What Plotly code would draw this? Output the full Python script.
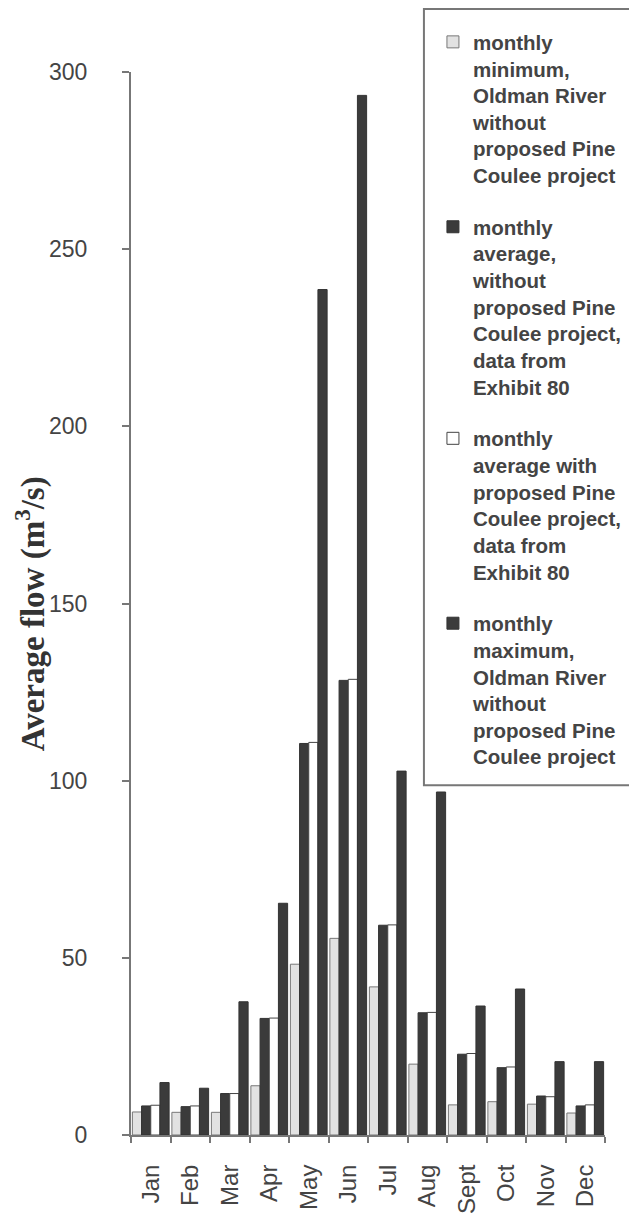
import plotly.graph_objects as go

months = ["Jan", "Feb", "Mar", "Apr", "May", "Jun", "Jul", "Aug", "Sept", "Oct", "Nov", "Dec"]
monthly_min = [6.5, 6.4, 6.4, 13.9, 48.2, 55.5, 41.8, 20.0, 8.5, 9.4, 8.7, 6.2]
avg_without = [8.2, 8.0, 11.7, 32.9, 110.5, 128.3, 59.2, 34.5, 22.8, 19.0, 11.0, 8.2]
avg_with = [8.4, 8.2, 11.7, 33.0, 110.8, 128.6, 59.3, 34.6, 23.0, 19.2, 10.8, 8.5]
monthly_max = [14.8, 13.2, 37.6, 65.4, 238.6, 293.4, 102.7, 96.8, 36.4, 41.2, 20.7, 20.7]
y_title = "<b>Average flow (m<sup>3</sup>/s)</b>"

legend_names = [
    "monthly<br>minimum,<br>Oldman River<br>without<br>proposed Pine<br>Coulee project",
    "monthly<br>average,<br>without<br>proposed Pine<br>Coulee project,<br>data from<br>Exhibit 80",
    "monthly<br>average with<br>proposed Pine<br>Coulee project,<br>data from<br>Exhibit 80",
    "monthly<br>maximum,<br>Oldman River<br>without<br>proposed Pine<br>Coulee project",
]

series = [monthly_min, avg_without, avg_with, monthly_max]
fills = ["#e2e2e2", "#3b3b3b", "#ffffff", "#3b3b3b"]
lines = ["#777777", "#333333", "#444444", "#333333"]

fig = go.Figure()
for i, (vals, name) in enumerate(zip(series, legend_names)):
    fig.add_trace(go.Bar(
        x=months, y=vals, name=name, legendgroup=f"g{i}",
        marker=dict(color=fills[i], line=dict(color=lines[i], width=1)),
    ))

fig.update_layout(
    width=637, height=1217,
    margin=dict(l=123, r=40, t=64, b=90, autoexpand=False),
    paper_bgcolor="white", plot_bgcolor="white",
    barmode="group", bargap=0.07, bargroupgap=0,
    showlegend=True,
    legend=dict(
        x=0.637, y=1.047, xanchor="left", yanchor="top",
        bgcolor="rgba(0,0,0,0)", borderwidth=0,
        font=dict(family="Liberation Sans", size=20.5, color="#444444", weight="bold"),
        valign="top", tracegroupgap=22, traceorder="grouped",
        maxheight=1200,
    ),
    font=dict(family="Liberation Sans", color="#444444"),
    shapes=[dict(
        type="rect", xref="paper", yref="paper",
        x0=0.618, x1=1.12, y0=0.329, y1=1.0593,
        line=dict(color="#777777", width=2), fillcolor="white", layer="above",
    )],
    annotations=[dict(
        text=y_title, xref="paper", yref="paper", x=-0.213, y=0.49,
        xanchor="center", yanchor="middle", textangle=-90, showarrow=False,
        font=dict(family="Liberation Serif", size=33, color="#333333"),
    )],
)

fig.update_xaxes(
    type="category", showgrid=False, showline=True, linecolor="#777777", linewidth=2,
    ticks="outside", ticklen=6, tickcolor="#777777", tickwidth=2, tickson="boundaries",
    tickangle=-90, tickfont=dict(family="Liberation Sans", size=24, color="#444444"),
    ticklabelstandoff=18, automargin=False,
)
fig.update_yaxes(
    range=[0, 300], tickvals=[0, 50, 100, 150, 200, 250, 300], showgrid=False,
    zeroline=False, showline=True, linecolor="#777777", linewidth=2,
    ticks="outside", ticklen=7, tickcolor="#777777", tickwidth=2,
    tickfont=dict(family="Liberation Sans", size=23, color="#444444"),
    ticklabelstandoff=30, automargin=False,
)

fig.write_html("out.html")
